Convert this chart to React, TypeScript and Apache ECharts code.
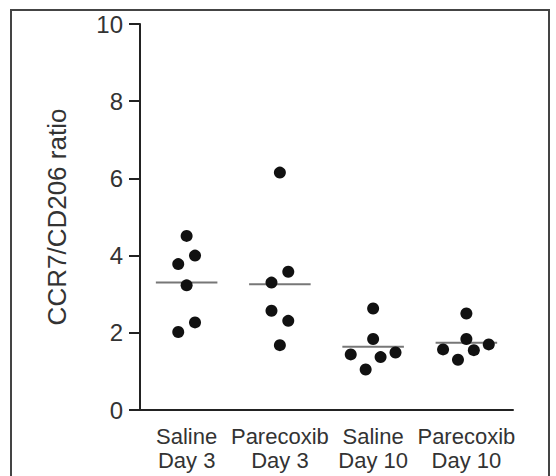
import React, { useEffect, useRef } from "react";
import * as echarts from "echarts";

const categories = ["Saline\nDay 3", "Parecoxib\nDay 3", "Saline\nDay 10", "Parecoxib\nDay 10"];
const salineDay3 = [4.51, 4.0, 3.78, 3.23, 2.27, 2.02];
const parecoxibDay3 = [6.15, 3.58, 3.3, 2.57, 2.31, 1.68];
const salineDay10 = [2.63, 1.84, 1.49, 1.44, 1.37, 1.05];
const parecoxibDay10 = [2.5, 1.84, 1.7, 1.57, 1.55, 1.3];
const groupValues = [salineDay3, parecoxibDay3, salineDay10, parecoxibDay10];
// horizontal scatter offsets within each category (category units)
const jitterDay3Saline = [0, 0.09, -0.09, 0, 0.09, -0.09];
const jitterDay3Parecoxib = [0, 0.09, -0.09, -0.09, 0.09, 0];
const jitterDay10Saline = [0, 0, 0.24, -0.24, 0.08, -0.08];
const jitterDay10Parecoxib = [0, 0, 0.24, -0.25, 0.08, -0.09];
const groupJitter = [jitterDay3Saline, jitterDay3Parecoxib, jitterDay10Saline, jitterDay10Parecoxib];
const means = [3.3, 3.26, 1.64, 1.74];
const yTicks = { min: 0, max: 10, interval: 2 };
const yName = "CCR7/CD206 ratio";

const FONT = "'Liberation Sans', Arial, Helvetica, sans-serif";

export default function App() {
  const ref = useRef<HTMLDivElement>(null);
  useEffect(() => {
    if (!ref.current) return;
    const chart = echarts.init(ref.current, null, { renderer: "svg" });
    const points: number[][] = [];
    groupValues.forEach((vals, g) => {
      vals.forEach((v, k) => points.push([g + groupJitter[g][k], v]));
    });
    chart.setOption({
      animation: false,
      backgroundColor: "#ffffff",
      textStyle: { fontFamily: FONT },
      graphic: [
        {
          type: "rect",
          shape: { x: 11, y: 10, width: 538, height: 480 },
          style: { fill: "none", stroke: "#444", lineWidth: 2 },
          silent: true,
        },
      ],
      grid: { left: 140, right: 43, top: 24, bottom: 66, containLabel: false },
      xAxis: [
        {
          type: "category",
          data: categories,
          boundaryGap: true,
          axisLine: { onZero: false, lineStyle: { color: "#222", width: 2 } },
          axisTick: { alignWithLabel: true, length: 9, lineStyle: { color: "#222", width: 2 } },
          axisLabel: {
            interval: 0,
            fontSize: 22,
            lineHeight: 24,
            color: "#333",
            margin: 14,
            fontFamily: FONT,
          },
          splitLine: { show: false },
        },
        { type: "value", min: -0.5, max: 3.5, show: false },
      ],
      yAxis: {
        type: "value",
        min: yTicks.min,
        max: yTicks.max,
        interval: yTicks.interval,
        name: yName,
        nameLocation: "middle",
        nameGap: 70,
        nameTextStyle: { fontSize: 26, color: "#333", fontFamily: FONT },
        axisLine: { show: true, onZero: false, lineStyle: { color: "#222", width: 2 } },
        axisTick: { show: true, length: 11, lineStyle: { color: "#222", width: 2 } },
        axisLabel: { fontSize: 24, color: "#333", margin: 17, fontFamily: FONT },
        splitLine: { show: false },
      },
      series: [
        {
          type: "custom",
          xAxisIndex: 1,
          z: 1,
          data: means.map((m, i) => [i, m]),
          renderItem: (params: any, api: any) => {
            const i = api.value(0);
            const m = api.value(1);
            const p1 = api.coord([i - 0.33, m]);
            const p2 = api.coord([i + 0.33, m]);
            return {
              type: "line",
              shape: { x1: p1[0], y1: p1[1], x2: p2[0], y2: p2[1] },
              style: { stroke: "#777", lineWidth: 2 },
            };
          },
        },
        {
          type: "scatter",
          xAxisIndex: 1,
          z: 3,
          symbol: "circle",
          symbolSize: 12,
          itemStyle: { color: "#111", opacity: 1 },
          data: points,
        },
      ],
    });
    return () => chart.dispose();
  }, []);
  return (
    <div
      ref={ref}
      style={{ position: "fixed", left: 0, top: 0, width: 556, height: 476 }}
    />
  );
}
